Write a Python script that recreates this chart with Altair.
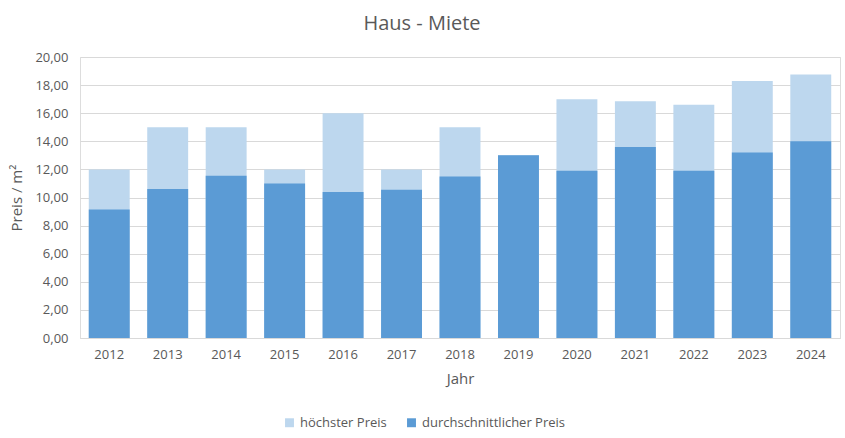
import altair as alt
import pandas as pd

years = ["2012", "2013", "2014", "2015", "2016", "2017", "2018", "2019", "2020", "2021", "2022", "2023", "2024"]
hoechster = [12.0, 15.0, 15.0, 12.0, 16.0, 12.0, 15.0, 13.0, 17.0, 16.85, 16.6, 18.3, 18.75]
durchschnitt = [9.15, 10.6, 11.55, 11.0, 10.4, 10.55, 11.5, 13.0, 11.9, 13.6, 11.9, 13.2, 14.0]
series = ["höchster Preis", "durchschnittlicher Preis"]
colors = ["#BDD7EE", "#5B9BD5"]

rows = []
for y, v in zip(years, hoechster):
    rows.append({"Jahr": y, "Serie": series[0], "Preis": v, "o": 0})
for y, v in zip(years, durchschnitt):
    rows.append({"Jahr": y, "Serie": series[1], "Preis": v, "o": 1})
df = pd.DataFrame(rows)

FONT = "Open Sans"
GRAY = "#595959"

chart = alt.Chart(df).mark_bar().encode(
    x=alt.X("Jahr:N", sort=years,
            scale=alt.Scale(paddingInner=0.3, paddingOuter=0.15),
            axis=alt.Axis(title="Jahr", labelAngle=0, ticks=False, domain=True,
                          domainColor="#D9D9D9", labelPadding=10, titlePadding=10,
                          labelFontSize=13, titleFontSize=15, labelColor=GRAY,
                          titleColor=GRAY, titleFontWeight="normal", labelFont=FONT,
                          titleFont=FONT)),
    y=alt.Y("Preis:Q", stack=None, scale=alt.Scale(domain=[0, 20]),
            axis=alt.Axis(title="Preis / m²", values=[0, 2, 4, 6, 8, 10, 12, 14, 16, 18, 20],
                          labelExpr="replace(format(datum.value, '.2f'), '.', ',')",
                          ticks=False, domain=False, gridColor="#D9D9D9",
                          labelPadding=12, titlePadding=10,
                          labelFontSize=13, titleFontSize=15, labelColor=GRAY,
                          titleColor=GRAY, titleFontWeight="normal", labelFont=FONT,
                          titleFont=FONT)),
    color=alt.Color("Serie:N", scale=alt.Scale(domain=series, range=colors),
                    legend=alt.Legend(title=None, orient="none", direction="horizontal",
                                      legendX=203, legendY=359, symbolType="square",
                                      symbolSize=80, symbolStrokeWidth=0,
                                      labelFontSize=13, labelColor=GRAY, labelFont=FONT,
                                      columnPadding=18)),
    order=alt.Order("o:Q"),
).properties(
    width=760, height=281,
    title=alt.TitleParams("Haus - Miete", fontSize=20, font=FONT, color=GRAY,
                          fontWeight="normal", anchor="middle", dx=-38, offset=17),
    autosize=alt.AutoSizeParams(type="none"),
    padding={"left": 80, "top": 57, "right": 5, "bottom": 100},
).configure_view(stroke=None).configure(background="white")

chart.save("out.html", embed_options={"renderer": "svg", "actions": False})
